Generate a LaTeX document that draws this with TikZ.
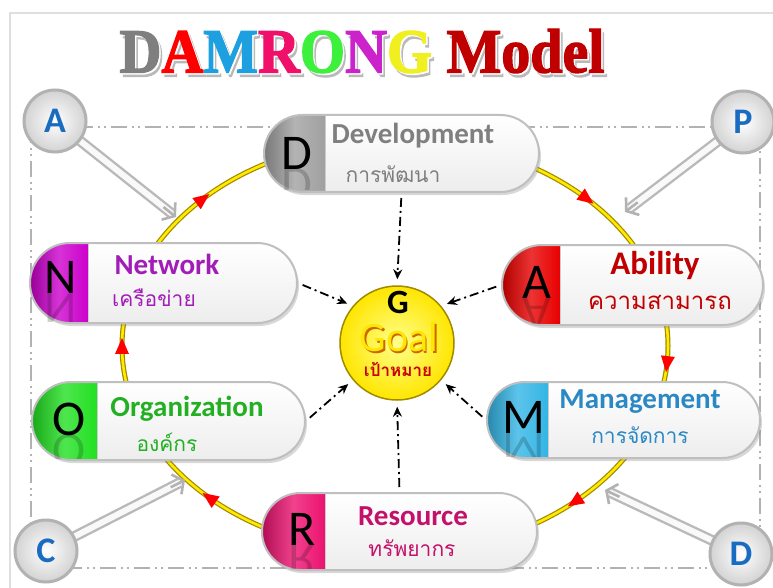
\documentclass[tikz,border=0pt]{standalone}
\usepackage{fontspec}
\usetikzlibrary{shapes.misc,shadows,calc,arrows.meta,decorations.markings}
\newfontfamily\thaifont[Script=Thai]{Loma}
\newfontfamily\calfont{Carlito}
\newfontfamily\titlefont[BoldFeatures={FakeBold=2.2}]{Liberation Serif}
\definecolor{cD}{HTML}{A0A0A0}\definecolor{tD}{HTML}{7F7F7F}
\definecolor{cN}{HTML}{CC00CC}\definecolor{tN}{HTML}{A21CB8}
\definecolor{cA}{HTML}{E80000}\definecolor{tA}{HTML}{C00000}
\definecolor{cO}{HTML}{22E022}\definecolor{tO}{HTML}{22B022}
\definecolor{cM}{HTML}{33B5E5}\definecolor{tM}{HTML}{2A88C4}
\definecolor{cR}{HTML}{EC1270}\definecolor{tR}{HTML}{C4106A}
\definecolor{kblue}{HTML}{1A6CC0}
\definecolor{ringout}{HTML}{A08A00}
\definecolor{ringin}{HTML}{FFEA00}
\definecolor{tiD}{HTML}{7F7F7F}\definecolor{tiA}{HTML}{FF0000}
\definecolor{tiM}{HTML}{1EA0E0}\definecolor{tiR}{HTML}{F0106A}
\definecolor{tiO}{HTML}{3CF03C}\definecolor{tiN}{HTML}{CC22CC}
\definecolor{tiG}{HTML}{F0F020}\definecolor{tiMo}{HTML}{C00000}
\begin{document}
\begin{tikzpicture}[x=1pt,y=-1pt,
  pill/.style={rounded rectangle, draw=gray!50, line width=2pt, inner sep=0pt,
    drop shadow={opacity=0.3, shadow xshift=2pt, shadow yshift=-3pt}},
  bigl/.style={font=\calfont\fontsize{50}{50}\selectfont, text=black, inner sep=0pt},
  refl/.style={bigl, yscale=-1, opacity=0.18},
  cap/.style 2 args={path picture={
    \shade[top color=white, bottom color=gray!14]
      (path picture bounding box.north west) rectangle (path picture bounding box.south east);
    \shade[left color=#1!75!black, right color=#1, middle color=#1!80!white]
      (path picture bounding box.north west) rectangle ([xshift=#2]path picture bounding box.south west);
    \draw[gray!40, line width=0.8pt] ([xshift=#2]path picture bounding box.north west) -- ([xshift=#2]path picture bounding box.south west);}},
  eng/.style={font=\calfont\bfseries\fontsize{29}{29}\selectfont, inner sep=0pt},
  th/.style={font=\thaifont\fontsize{21}{21}\selectfont, inner sep=0pt},
  corner/.style={circle, minimum size=62pt, inner sep=0pt, draw=gray!60, line width=3pt,
    inner color=white, outer color=gray!35, text=kblue,
    font=\calfont\bfseries\fontsize{36}{36}\selectfont},
  tube/.style={draw=gray!55, double=gray!5, double distance=6pt, line width=2.4pt},
  tubehead/.style={gray!60, line width=2.6pt, -{Straight Barb[length=8pt,width=22pt]}},
  frame/.style={gray!60, line width=2.5pt, dash pattern=on 16pt off 5pt on 2pt off 4pt on 2pt off 5pt},
  goalarr/.style={black, line width=1.8pt, dash pattern=on 9pt off 4pt on 2pt off 4pt,
    -{Stealth[length=10pt,width=9pt]}, shorten >=6pt, shorten <=5pt},
  tri/.style={decoration={markings,
    mark=at position 0.012 with {\fill[red] (-8pt,-7pt) -- (8pt,0pt) -- (-8pt,7pt) -- cycle;},
    mark=at position 0.125 with {\fill[red] (-8pt,-7pt) -- (8pt,0pt) -- (-8pt,7pt) -- cycle;},
    mark=at position 0.380 with {\fill[red] (-8pt,-7pt) -- (8pt,0pt) -- (-8pt,7pt) -- cycle;},
    mark=at position 0.500 with {\fill[red] (-8pt,-7pt) -- (8pt,0pt) -- (-8pt,7pt) -- cycle;},
    mark=at position 0.615 with {\fill[red] (-8pt,-7pt) -- (8pt,0pt) -- (-8pt,7pt) -- cycle;},
    mark=at position 0.885 with {\fill[red] (-8pt,-7pt) -- (8pt,0pt) -- (-8pt,7pt) -- cycle;}},
    postaction={decorate}}
]
\useasboundingbox (0,0) rectangle (773,588);
\fill[white] (0,0) rectangle (773,588);
\draw[gray!25, line width=1.5pt] (10,588) -- (10,13) -- (773,13);

% title
\node[font=\titlefont\bfseries\fontsize{58}{58}\selectfont, text=gray!55, yscale=1.08, inner sep=0pt]
  (titleshadow) at (365,55) {DAMRONG Model};
\node[font=\titlefont\bfseries\fontsize{58}{58}\selectfont, text=white, yscale=1.08, inner sep=0pt]
  (titlewhite) at (363.5,52.5) {DAMRONG Model};
\node[font=\titlefont\bfseries\fontsize{58}{58}\selectfont, yscale=1.08, inner sep=0pt]
  (title) at (362,51) {\textcolor{tiD}{D}\textcolor{tiA}{A}\textcolor{tiM}{M}\textcolor{tiR}{R}\textcolor{tiO}{O}\textcolor{tiN}{N}\textcolor{tiG}{G} \textcolor{tiMo}{Model}};

% dash-dot frame
\draw[frame] (31,127) rectangle (760,568);

% ring
\draw[ringout, line width=5pt] (395,346) ellipse [x radius=273, y radius=207];
\draw[ringin, line width=2.6pt, tri] (395,346) ellipse [x radius=273, y radius=207];

% corner circles and tubes
\coordinate (eA) at (176,217);
\coordinate (eP) at (625,212);
\coordinate (eC) at (185,480);
\coordinate (eD) at (605,490);
\coordinate (oA) at (55,121);
\coordinate (oP) at (743,122);
\coordinate (oC) at (46,551);
\coordinate (oD) at (741,554);
\draw[tube, shorten >=6pt] (oA) -- (eA);
\draw[tubehead] ($(eA)!16pt!(oA)$) -- (eA);
\draw[tube, shorten >=6pt] (oP) -- (eP);
\draw[tubehead] ($(eP)!16pt!(oP)$) -- (eP);
\draw[tube, shorten >=6pt] (oC) -- (eC);
\draw[tubehead] ($(eC)!16pt!(oC)$) -- (eC);
\draw[tube, shorten >=6pt] (oD) -- (eD);
\draw[tubehead] ($(eD)!16pt!(oD)$) -- (eD);
\node[corner] (kA) at (oA) {A};
\node[corner] (kP) at (oP) {P};
\node[corner] (kC) at (oC) {C};
\node[corner] (kD) at (oD) {D};

% pills
\node[pill, minimum width=275pt, minimum height=77pt, cap={cD}{61pt}] (Dp) at (401.5,153.5) {};
\begin{scope}\clip (276,169) rectangle (325,190);
\node[refl] (Drefl) at (297,185) {D};\end{scope}
\node[bigl] (Dl) at (297,153) {D};
\node[eng, text=tD] (De) at (413,136) {Development};
\node[th, text=tD] (Dt) at (393,174) {การพัฒนา};

\node[pill, minimum width=267pt, minimum height=80pt, cap={cN}{58pt}] (Np) at (163.5,283) {};
\begin{scope}\clip (40,293) rectangle (88,321);
\node[refl] (Nrefl) at (61,309) {N};\end{scope}
\node[bigl] (Nl) at (61,277) {N};
\node[eng, text=tN] (Ne) at (167,264) {Network};
\node[th, text=tN] (Nt) at (154,298) {เครือข่าย};

\node[pill, minimum width=261pt, minimum height=80pt, cap={cA}{58pt}] (Ap) at (632.5,285) {};
\begin{scope}\clip (512,298) rectangle (560,323);
\node[refl] (Arefl) at (537,314) {A};\end{scope}
\node[bigl] (Al) at (537,282) {A};
\node[eng, text=tA, font=\calfont\bfseries\fontsize{33}{33}\selectfont] (Ae) at (655,266) {Ability};
\node[th, text=tA, font=\thaifont\fontsize{24}{24}\selectfont] (At) at (660,302) {ความสามารถ};

\node[pill, minimum width=273pt, minimum height=78pt, cap={cO}{65pt}] (Op) at (168.5,421) {};
\begin{scope}\clip (44,435) rectangle (97,458);
\node[refl] (Orefl) at (69,451) {O};\end{scope}
\node[bigl] (Ol) at (69,419) {O};
\node[eng, text=tO] (Oe) at (187,409) {Organization};
\node[th, text=tO] (Ot) at (167,442) {องค์กร};

\node[pill, minimum width=273pt, minimum height=76pt, cap={cM}{61pt}] (Mp) at (623.5,420) {};
\begin{scope}\clip (498,433) rectangle (548,456);
\node[refl] (Mrefl) at (524,449) {M};\end{scope}
\node[bigl] (Ml) at (524,417) {M};
\node[eng, text=tM] (Me) at (640,402) {Management};
\node[th, text=tM] (Mt) at (640,435) {การจัดการ};

\node[pill, minimum width=275pt, minimum height=77pt, cap={cR}{63pt}] (Rp) at (399.5,531.5) {};
\begin{scope}\clip (280,545) rectangle (325,568);
\node[refl] (Rrefl) at (302,561) {R};\end{scope}
\node[bigl] (Rl) at (302,529) {R};
\node[eng, text=tR] (Re) at (413,516) {Resource};
\node[th, text=tR] (Rt) at (412,548) {ทรัพยากร};

% goal
\node[circle, minimum size=114pt, inner sep=0pt, draw=ringout, line width=1.5pt,
  inner color=yellow!45!white, outer color=yellow!80!orange] (goal) at (397,343) {};
\node[font=\calfont\bfseries\fontsize{34}{34}\selectfont, text=black, inner sep=0pt] (gG) at (398,302) {G};
\node[font=\calfont\fontsize{42}{42}\selectfont, text=orange!80!black, inner sep=0pt] (gGoalS) at (400.5,339) {Goal};
\node[font=\calfont\fontsize{42}{42}\selectfont, text=yellow!90!orange, inner sep=0pt] (gGoal) at (399,337.5) {Goal};
\node[font=\thaifont\bfseries\fontsize{17}{17}\selectfont, text=red!80!black, inner sep=0pt] (gT) at (398,369) {เป้าหมาย};

% arrows to goal
\draw[goalarr] (Dp.south) -- (goal.north);
\draw[goalarr] (Np.east) -- (goal.140);
\draw[goalarr] (Ap.west) -- (goal.40);
\draw[goalarr] (Op.east) -- (goal.220);
\draw[goalarr] (Mp.west) -- (goal.320);
\draw[goalarr] (Rp.north) -- (goal.south);
\end{tikzpicture}
\end{document}
